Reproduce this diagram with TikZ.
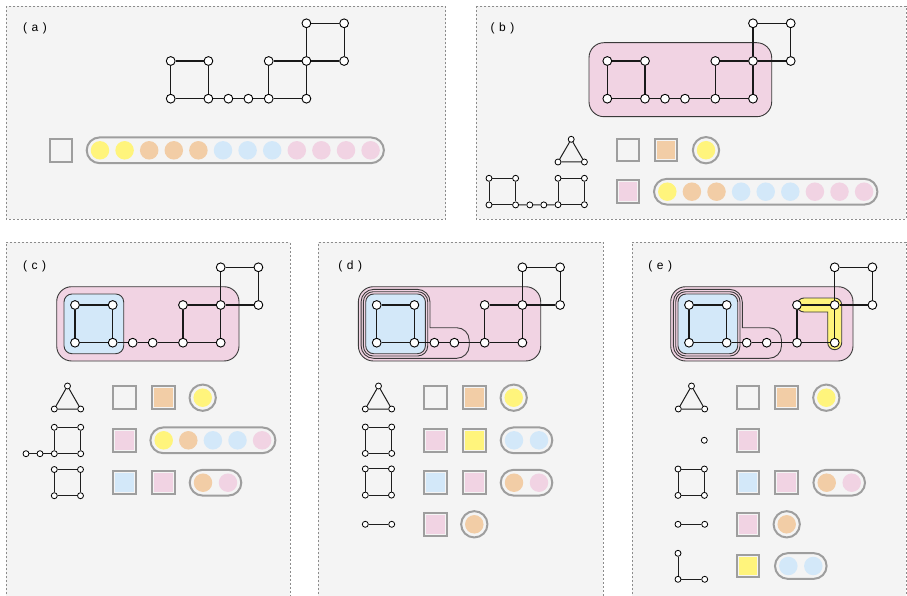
\documentclass[tikz,border=0pt]{standalone}
\usepackage{fontspec}
\setmainfont{Liberation Sans}
\definecolor{bgc}{HTML}{F4F4F4}
\definecolor{frame}{HTML}{8C8C8C}
\definecolor{lg}{HTML}{9E9E9E}
\definecolor{cy}{HTML}{FFF47C}
\definecolor{co}{HTML}{F2CDA6}
\definecolor{cb}{HTML}{D3E8F9}
\definecolor{cp}{HTML}{F1D3E3}
\definecolor{rline}{HTML}{3A3A3A}
\tikzset{
 panel/.style={fill=bgc},
 pframe/.style={draw=frame, line width=0.9pt, dash pattern=on 2pt off 2pt},
 gn/.style={circle, draw=black, fill=white, line width=0.9pt, minimum size=8.8pt, inner sep=0pt},
 sn/.style={circle, draw=black, fill=white, line width=0.8pt, minimum size=6pt, inner sep=0pt},
 ge/.style={line width=1.2pt, draw=black!90},
 se/.style={line width=1pt, draw=black!88},
 region/.style={draw=rline, line width=0.9pt},
 sqo/.style={rectangle, draw=lg, line width=2pt, fill=bgc, minimum size=22.5pt, inner sep=0pt},
 sqi/.style={rectangle, minimum size=18.5pt, inner sep=0pt, fill=#1},
 cio/.style={circle, draw=lg, line width=2pt, fill=bgc, minimum size=26.3pt, inner sep=0pt},
 dot/.style={circle, minimum size=18.5pt, inner sep=0pt, fill=#1},
 pill/.style={draw=lg, line width=2pt, fill=bgc, rounded corners=12.85pt},
 lab/.style={font=\fontsize{12}{14}\selectfont, inner sep=0pt},
}
\newcommand\topgraph[4]{%
 \node[gn] (#1tl) at (#2,#3) {};
 \node[gn] (#1tr) at (#2+37.7,#3) {};
 \node[gn] (#1bl) at (#2,#3+37.7) {};
 \node[gn] (#1br) at (#2+37.7,#3+37.7) {};
 \node[gn] (#1ca) at (#2+57.7,#3+37.7) {};
 \node[gn] (#1cb) at (#2+77.7,#3+37.7) {};
 \node[gn] (#1b1) at (#2+#4,#3+37.7) {};
 \node[gn] (#1b2) at (#2+#4+37.7,#3+37.7) {};
 \node[gn] (#1t1) at (#2+#4,#3) {};
 \node[gn] (#1t2) at (#2+#4+37.7,#3) {};
 \node[gn] (#1r) at (#2+#4+75.4,#3) {};
 \node[gn] (#1u1) at (#2+#4+37.7,#3-37.7) {};
 \node[gn] (#1u2) at (#2+#4+75.4,#3-37.7) {};
 \draw[ge] (#1tl)--(#1tr)--(#1br)--(#1bl)--(#1tl);
 \draw[ge] (#1br)--(#1ca)--(#1cb)--(#1b1)--(#1b2)--(#1t2)--(#1t1)--(#1b1);
 \draw[ge] (#1t2)--(#1r)--(#1u2)--(#1u1)--(#1t2);
}
\newcommand\sqgraph[4]{%
 \node[sn] (#1a) at (#2,#3) {};
 \node[sn] (#1b) at (#2+#4,#3) {};
 \node[sn] (#1c) at (#2,#3+#4) {};
 \node[sn] (#1d) at (#2+#4,#3+#4) {};
 \draw[se] (#1a)--(#1b)--(#1d)--(#1c)--(#1a);
}
\newcommand\trigraph[4]{%
 \node[sn] (#1a) at (#2+13.2,#4) {};
 \node[sn] (#1b) at (#2,#3) {};
 \node[sn] (#1c) at (#2+26.4,#3) {};
 \draw[se] (#1a)--(#1b)--(#1c)--(#1a);
}
\newcommand\lsq[4]{%
 \node[sqo] (#1) at (#2,#3) {};
 \node[sqi=#4] (#1i) at (#2,#3) {};
}
\newcommand\lcirc[4]{%
 \node[cio] (#1) at (#2,#3) {};
 \node[dot=#4] (#1i) at (#2,#3) {};
}
\newcommand\lpill[4]{%
 \draw[pill] (#2-13.3,#4-12.85) rectangle (#3+13.3,#4+12.85);
}
% nested regions of panels (c),(d),(e): #1 = x of top-left node, #2 = its y
\newcommand\pinkouter[2]{%
 \draw[region, fill=cp, rounded corners=15pt] (#1-18.3,#2-18.3) rectangle (#1+164,#2+56);
}
\newcommand\lregion[2]{%
 \draw[region, fill=cp] (#1-15.6,#2+53.3-12.5) -- (#1-15.6,#2-15.6+12.5)
   arc[start angle=180, end angle=270, radius=12.5] -- (#1+53.3-12.5,#2-15.6)
   arc[start angle=270, end angle=360, radius=12.5] -- (#1+53.3,#2+22.7)
   -- (#1+92.5-12.5,#2+22.7)
   arc[start angle=270, end angle=360, radius=12.5] -- (#1+92.5,#2+53.3-12.5)
   arc[start angle=0, end angle=90, radius=12.5] -- (#1-15.6+12.5,#2+53.3)
   arc[start angle=90, end angle=180, radius=12.5] -- cycle;
}
\begin{document}
\begin{tikzpicture}[x=1pt,y=-1pt]
\useasboundingbox (0,0) rectangle (907,596);
\fill[white] (0,0) rectangle (907,596);
% panels
\fill[panel] (6,6) rectangle (445.7,219);
\draw[pframe] (6,6) rectangle (445.7,219);
\fill[panel] (476,6) rectangle (906.2,219);
\draw[pframe] (476,6) rectangle (906.2,219);
\fill[panel] (6,242.3) rectangle (290,596);
\draw[pframe] (6,598) |- (290,242.3) -- (290,598);
\fill[panel] (318.3,242.3) rectangle (603,596);
\draw[pframe] (318.3,598) |- (603,242.3) -- (603,598);
\fill[panel] (632,242.3) rectangle (906.2,596);
\draw[pframe] (632,598) |- (906.2,242.3) -- (906.2,598);
% labels
\node[lab] (la) at (35,28.3) {(\hspace{4.5pt}a\hspace{4.5pt})};
\node[lab] (lb) at (502.5,28.3) {(\hspace{4.5pt}b\hspace{4.5pt})};
\node[lab] (lc) at (34.5,266.8) {(\hspace{4.5pt}c\hspace{4.5pt})};
\node[lab] (ld) at (350.2,266.8) {(\hspace{4.5pt}d\hspace{4.5pt})};
\node[lab] (le) at (660.2,266.8) {(\hspace{4.5pt}e\hspace{4.5pt})};

% ---------------- (a)
\topgraph{A}{170.7}{61}{98}
\lsq{asq}{60.8}{150.3}{bgc}
\lpill{ap}{100}{370.6}{150.3}
\foreach \c [count=\i from 0] in {cy,cy,co,co,co,cb,cb,cb,cp,cp,cp,cp}
  \node[dot=\c] (ad\i) at (100+24.6*\i,150.3) {};

% ---------------- (b)
\draw[region, fill=cp, rounded corners=15pt] (607.3-18.3,61-18.3) rectangle (607.3+164.4,61+55.7);
\topgraph{B}{607.3}{61}{108}
\trigraph{bt}{558}{162}{139.3}
\lsq{bs1}{628.2}{150.2}{bgc}
\lsq{bs2}{666.2}{150.2}{co}
\lcirc{bc1}{706}{150.2}{cy}
\sqgraph{bga}{489}{178.3}{26.6}
\sqgraph{bgb}{558}{178.3}{26.4}
\node[sn] (bx1) at (529.8,204.9) {};
\node[sn] (bx2) at (543.8,204.9) {};
\draw[se] (bgad)--(bx1)--(bx2)--(bgbc);
\lsq{bs3}{628.2}{191.7}{cp}
\lpill{bp}{667.3}{864.1}{191.7}
\foreach \c [count=\i from 0] in {cy,co,co,cb,cb,cb,cp,cp,cp}
  \node[dot=\c] (bd\i) at (667.3+24.6*\i,191.7) {};

% ---------------- (c)
\pinkouter{75}{305}
\draw[region, fill=cb, rounded corners=8pt] (75-11,305-11) rectangle (75+48.7,305+48.7);
\topgraph{C}{75}{305}{108}
\trigraph{ct}{54.3}{409}{386}
\lsq{cs1}{124.3}{397.7}{bgc}
\lsq{cs2}{163.3}{397.7}{co}
\lcirc{cc1}{202.7}{397.7}{cy}
\sqgraph{cga}{54.3}{427.3}{26.4}
\node[sn] (cx1) at (26,453.7) {};
\node[sn] (cx2) at (40,453.7) {};
\draw[se] (cx1)--(cx2)--(cgac);
\lsq{cs3}{124.3}{440.3}{cp}
\lpill{cp1}{163.7}{262.1}{440.3}
\foreach \c [count=\i from 0] in {cy,co,cb,cb,cp}
  \node[dot=\c] (cd\i) at (163.7+24.6*\i,440.3) {};
\sqgraph{cgb}{54.3}{469.5}{26.2}
\lsq{cs4}{124.3}{482.7}{cb}
\lsq{cs5}{163.3}{482.7}{cp}
\lpill{cp2}{203}{228}{482.7}
\node[dot=co] (ce0) at (203,482.7) {};
\node[dot=cp] (ce1) at (228,482.7) {};

% ---------------- (d)
\pinkouter{376.7}{305}
\lregion{376.7}{305}
\draw[region, fill=cp, rounded corners=10pt] (376.7-13.3,305-13.3) rectangle (376.7+51,305+51);
\draw[region, fill=cb, rounded corners=8pt] (376.7-11,305-11) rectangle (376.7+48.7,305+48.7);
\topgraph{D}{376.7}{305}{108}
\trigraph{dt}{365.3}{409}{386}
\lsq{ds1}{435.3}{397.7}{bgc}
\lsq{ds2}{474.3}{397.7}{co}
\lcirc{dc1}{513.7}{397.7}{cy}
\sqgraph{dga}{365.3}{427}{26.4}
\lsq{ds3}{435.3}{440.3}{cp}
\lsq{ds4}{474.3}{440.3}{cy}
\lpill{dp1}{514}{539}{440.3}
\node[dot=cb] (dd0) at (514,440.3) {};
\node[dot=cb] (dd1) at (539,440.3) {};
\sqgraph{dgb}{365.3}{468.9}{26.2}
\lsq{ds5}{435.3}{482.7}{cb}
\lsq{ds6}{474.3}{482.7}{cp}
\lpill{dp2}{514}{539}{482.7}
\node[dot=co] (de0) at (514,482.7) {};
\node[dot=cp] (de1) at (539,482.7) {};
\node[sn] (dy1) at (365.3,524.3) {};
\node[sn] (dy2) at (391.7,524.3) {};
\draw[se] (dy1)--(dy2);
\lsq{ds7}{435.3}{524.3}{cp}
\lcirc{dc2}{474.3}{524.3}{co}

% ---------------- (e)
\pinkouter{689}{305}
\lregion{689}{305}
\draw[region, fill=cp, rounded corners=10pt] (689-13.3,305-13.3) rectangle (689+51,305+51);
\draw[region, fill=cb, rounded corners=8pt] (689-11,305-11) rectangle (689+48.7,305+48.7);
\draw[region, fill=cy] (797,305) -- (797,305)
   arc[start angle=180, end angle=270, radius=7] -- (841.7-7,298)
   arc[start angle=270, end angle=360, radius=7] -- (841.7,349.7-7)
   arc[start angle=0, end angle=90, radius=7] -- (827.7+7,349.7)
   arc[start angle=90, end angle=180, radius=7] -- (827.7,312) -- (797+7,312)
   arc[start angle=90, end angle=180, radius=7] -- cycle;
\topgraph{E}{689}{305}{108}
\trigraph{et}{678.3}{409}{386}
\lsq{es1}{748}{397.7}{bgc}
\lsq{es2}{786.7}{397.7}{co}
\lcirc{ec1}{826.3}{397.7}{cy}
\node[sn] (ez) at (704.3,440.3) {};
\lsq{es3}{748}{440.3}{cp}
\sqgraph{ega}{678}{469}{26.4}
\lsq{es4}{748}{482.7}{cb}
\lsq{es5}{786.7}{482.7}{cp}
\lpill{ep1}{826.7}{851.7}{482.7}
\node[dot=co] (ed0) at (826.7,482.7) {};
\node[dot=cp] (ed1) at (851.7,482.7) {};
\node[sn] (ey1) at (678,524.3) {};
\node[sn] (ey2) at (704.7,524.3) {};
\draw[se] (ey1)--(ey2);
\lsq{es6}{748}{524.3}{cp}
\lcirc{ec2}{786.7}{524.3}{co}
\node[sn] (ew1) at (678,553.3) {};
\node[sn] (ew2) at (678,579.3) {};
\node[sn] (ew3) at (704.7,579.3) {};
\draw[se] (ew1)--(ew2)--(ew3);
\lsq{es7}{748}{566}{cy}
\lpill{ep2}{788.3}{813.3}{566}
\node[dot=cb] (ef0) at (788.3,566) {};
\node[dot=cb] (ef1) at (813.3,566) {};
\end{tikzpicture}
\end{document}
